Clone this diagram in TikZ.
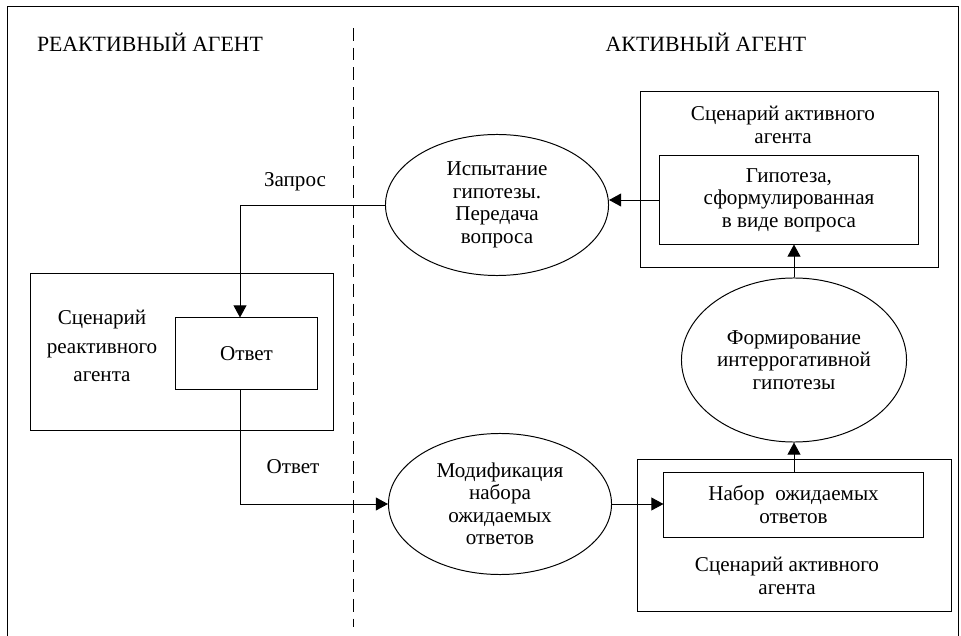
\documentclass[tikz,border=0pt]{standalone}
\usepackage{fontspec}
\setmainfont{Liberation Serif}
\usetikzlibrary{arrows.meta,shapes.geometric}

\begin{document}
\begin{tikzpicture}[x=0.025cm,y=-0.025cm,>={Triangle[length=3mm,width=3.2mm]},line width=0.7pt,
  every node/.style={font=\fontsize{15}{16}\selectfont,align=center},
  frame/.style={draw,inner sep=0pt},
  oval/.style={draw,ellipse,inner sep=0pt},
  title/.style={font=\fontsize{15.5}{18}\selectfont}]
\useasboundingbox (0,0) rectangle (961,636);
\draw (7,640) -- (7,6) -- (958,6) -- (958,640);
\draw[dashed,dash pattern=on 9pt off 5pt] (353,28) -- (353,627);
\node[title] (rtitle) at (150,42) {РЕАКТИВНЫЙ АГЕНТ};
\node[title] (atitle) at (706,42) {АКТИВНЫЙ АГЕНТ};
% reactive agent
\node[frame,minimum width=7.55cm,minimum height=3.9cm] (rscen) at (182,352) {};
\node[font=\fontsize{15}{20.5}\selectfont] (rlbl) at (102,346) {Сценарий\\реактивного\\агента};
\node[frame,minimum width=3.525cm,minimum height=1.775cm] (answer) at (246.5,353.5) {Ответ};
% active agent
\node[oval,minimum width=5.575cm,minimum height=3.525cm] (test) at (497,205) {Испытание\\гипотезы.\\Передача\\вопроса};
\node[frame,minimum width=7.425cm,minimum height=4.375cm] (ascen1) at (789.5,179.5) {};
\node (albl1) at (783,125) {Сценарий активного\\агента};
\node[frame,minimum width=6.45cm,minimum height=2.2cm] (hyp) at (789,200) {Гипотеза,\\сформулированная\\в виде вопроса};
\node[oval,minimum width=5.625cm,minimum height=4.1cm] (form) at (794,360) {Формирование\\интеррогативной\\гипотезы};
\node[oval,minimum width=5.575cm,minimum height=3.525cm] (modif) at (500,504) {Модификация\\набора\\ожидаемых\\ответов};
\node[frame,minimum width=7.825cm,minimum height=3.775cm] (ascen2) at (794.5,535.5) {};
\node[frame,minimum width=6.475cm,minimum height=1.625cm] (expset) at (793.5,504.5) {Набор~~ожидаемых\\ответов};
\node (albl2) at (787,576) {Сценарий активного\\агента};
% connectors
\coordinate (qturn) at (240,205);
\coordinate (aturn) at (240,504);
\draw[->] (test.west) -- (qturn) -- (qturn |- answer.north);
\node (qlbl) at (295,182) {Запрос};
\draw[->] (aturn |- answer.south) -- (aturn) -- (modif.west);
\node (albl) at (293,467) {Ответ};
\draw[->] (hyp.west) -- (hyp.west -| test.east);
\draw[->] (form.north) -- (form.north |- hyp.south);
\draw[->] (modif.east) -- (modif.east -| expset.west);
\draw[->] (expset.north -| form.south) -- (form.south);
\end{tikzpicture}
\end{document}
